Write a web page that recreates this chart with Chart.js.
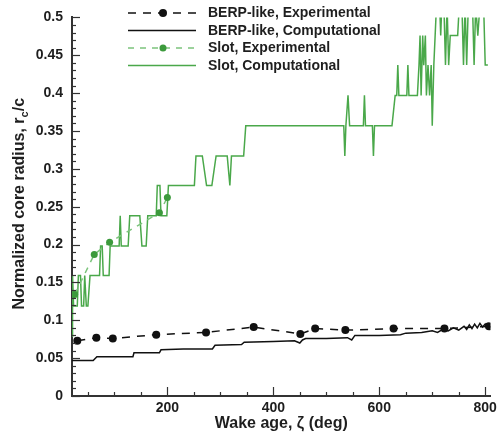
<!DOCTYPE html>
<html>
<head>
<meta charset="utf-8">
<script src="https://cdn.jsdelivr.net/npm/chart.js@4.4.0/dist/chart.umd.min.js"></script>
<style>
  html, body { margin: 0; padding: 0; background: #fff; }
</style>
</head>
<body>
<canvas id="coreChart" width="501" height="439"></canvas>
<script>
// series labels
var seriesNames = [
  "BERP-like, Experimental",
  "BERP-like, Computational",
  "Slot, Experimental",
  "Slot, Computational"
];

// axis tick values
var xTickValues = [200, 400, 600, 800];

// BERP-like experimental points
var berpExpX = [30, 66, 97, 179, 273, 363, 451, 479, 536, 627, 723, 807];
var berpExpY = [0.073, 0.077, 0.076, 0.081, 0.084, 0.091, 0.082, 0.089, 0.087, 0.089, 0.089, 0.092];

// BERP-like computational line
var berpCompX = [20, 60, 67, 135, 137, 185, 188, 230, 285, 290, 340, 345, 400, 440, 450, 455, 461, 500, 540, 548, 554, 600, 640, 650, 680, 700,
  710, 720, 730, 740, 750, 760, 765, 770, 775, 780, 785, 790, 795, 800, 805, 810];
var berpCompY = [0.047, 0.047, 0.052, 0.052, 0.057, 0.057, 0.061, 0.062, 0.062, 0.067, 0.068, 0.071, 0.072, 0.073, 0.070, 0.074, 0.076, 0.076, 0.077, 0.074, 0.080, 0.080, 0.081, 0.083, 0.084, 0.086,
  0.084, 0.088, 0.086, 0.090, 0.087, 0.092, 0.088, 0.094, 0.089, 0.095, 0.090, 0.096, 0.091, 0.095, 0.089, 0.092];

// Slot experimental points
var slotExpX = [25, 62, 91, 185, 200];
var slotExpY = [0.134, 0.187, 0.203, 0.242, 0.262];

// Slot computational line
var slotCompX = [20, 21, 23, 30, 32, 36, 38, 42, 44, 47, 50, 54, 72, 74, 77, 79, 90, 92, 109, 111, 113, 126, 129, 148, 152, 160, 163,
  179, 181, 186, 188, 199, 202, 251, 254, 266, 274, 284, 292, 313, 318, 321, 344, 348,
  533, 535, 537, 541, 544, 570, 572, 574, 587, 589, 591, 624, 630, 633, 635, 637, 652, 654, 656,
  672, 675, 677, 679, 682, 684, 687, 689, 692, 695, 698, 700, 703, 708, 714, 716, 718, 722, 725, 728, 731, 734,
  748, 751, 756, 759, 762, 765, 768, 776, 779, 782, 786, 790, 797, 800, 805];
var slotCompY = [0.079, 0.159, 0.119, 0.119, 0.159, 0.159, 0.119, 0.119, 0.159, 0.119, 0.119, 0.159, 0.159, 0.198, 0.198, 0.159, 0.159, 0.198, 0.198, 0.238, 0.198, 0.198, 0.238, 0.238, 0.198, 0.198, 0.238,
  0.238, 0.278, 0.278, 0.238, 0.238, 0.278, 0.278, 0.317, 0.317, 0.278, 0.278, 0.317, 0.317, 0.278, 0.317, 0.317, 0.357,
  0.357, 0.317, 0.357, 0.397, 0.357, 0.357, 0.397, 0.357, 0.357, 0.317, 0.357, 0.357, 0.397, 0.397, 0.437, 0.397, 0.397, 0.437, 0.397,
  0.397, 0.437, 0.476, 0.397, 0.476, 0.437, 0.476, 0.397, 0.437, 0.397, 0.437, 0.357, 0.437, 0.516, 0.516, 0.476, 0.516, 0.516, 0.437, 0.516, 0.437, 0.476,
  0.476, 0.516, 0.516, 0.437, 0.516, 0.437, 0.516, 0.516, 0.437, 0.516, 0.476, 0.516, 0.516, 0.437, 0.437];

function pairs(xs, ys) {
  return xs.map(function (x, i) { return { x: x, y: ys[i] }; });
}

var FONT = "'Liberation Sans', Arial, Helvetica, sans-serif";
var INK = "#1e1e1e";

// inward ticks, axis titles and legend
var decorPlugin = {
  id: "decor",
  afterDraw: function (chart) {
    var ctx = chart.ctx;
    var xs = chart.scales.x, ys = chart.scales.y;
    var area = chart.chartArea;
    ctx.save();
    ctx.strokeStyle = "#333";
    ctx.lineWidth = 1.2;
    // y ticks every 0.01, major every 0.05
    for (var k = 0; k <= 50; k++) {
      var py = Math.round(ys.getPixelForValue(k / 100)) + 0.5;
      var len = (k % 5 === 0) ? 8 : 4;
      ctx.beginPath();
      ctx.moveTo(area.left, py);
      ctx.lineTo(area.left + len, py);
      ctx.stroke();
    }
    // x ticks every 50, major every 200
    for (var v = 50; v <= 800; v += 50) {
      var px = Math.round(xs.getPixelForValue(v)) + 0.5;
      var l2 = (v % 200 === 0) ? 9 : 4;
      ctx.beginPath();
      ctx.moveTo(px, area.bottom);
      ctx.lineTo(px, area.bottom - l2);
      ctx.stroke();
    }

    ctx.fillStyle = INK;
    // x title
    ctx.font = "bold 16px " + FONT;
    ctx.textAlign = "center";
    ctx.textBaseline = "middle";
    ctx.fillText("Wake age, \u03b6 (deg)", (area.left + area.right) / 2, 424);

    // y title with subscript
    ctx.translate(20, (area.top + area.bottom) / 2 - 3);
    ctx.rotate(-Math.PI / 2);
    ctx.textAlign = "left";
    var big = "bold 16px " + FONT, small = "bold 11px " + FONT;
    var p1 = "Normalized core radius, r", p2 = "c", p3 = "/c";
    ctx.font = big;
    var w1 = ctx.measureText(p1).width, w3 = ctx.measureText(p3).width;
    ctx.font = small;
    var w2 = ctx.measureText(p2).width;
    var x0 = -(w1 + w2 + w3) / 2;
    ctx.font = big;
    ctx.fillText(p1, x0, 0);
    ctx.font = small;
    ctx.fillText(p2, x0 + w1, 5);
    ctx.font = big;
    ctx.fillText(p3, x0 + w1 + w2, 0);
    ctx.setTransform(1, 0, 0, 1, 0, 0);

    // legend
    chart.data.datasets.forEach(function (ds, i) {
      var ry = 13 + i * 17.5;
      ctx.strokeStyle = ds.borderColor;
      ctx.lineWidth = ds.borderWidth;
      ctx.setLineDash(ds.borderDash || []);
      ctx.beginPath();
      ctx.moveTo(128, ry);
      ctx.lineTo(196, ry);
      ctx.stroke();
      ctx.setLineDash([]);
      if (ds.pointRadius > 0) {
        ctx.fillStyle = ds.pointBackgroundColor;
        ctx.beginPath();
        ctx.arc(163, ry, ds.pointRadius, 0, Math.PI * 2);
        ctx.fill();
      }
      ctx.fillStyle = INK;
      ctx.font = "bold 14px " + FONT;
      ctx.textAlign = "left";
      ctx.textBaseline = "middle";
      ctx.fillText(seriesNames[i], 208, ry + 0.5);
    });
    ctx.restore();
  }
};

new Chart(document.getElementById("coreChart"), {
  type: "line",
  data: {
    datasets: [
      {
        label: seriesNames[0],
        data: pairs(berpExpX, berpExpY),
        borderColor: "#111",
        borderWidth: 1.5,
        borderDash: [8, 7],
        pointRadius: 4,
        pointBackgroundColor: "#111",
        pointBorderColor: "#111",
        pointBorderWidth: 0
      },
      {
        label: seriesNames[1],
        data: pairs(berpCompX, berpCompY),
        borderColor: "#111",
        borderWidth: 1.5,
        pointRadius: 0
      },
      {
        label: seriesNames[2],
        data: pairs(slotExpX, slotExpY),
        borderColor: "#7cc47c",
        borderWidth: 1.5,
        borderDash: [6, 6],
        pointRadius: 3.5,
        pointBackgroundColor: "#3c9a3c",
        pointBorderColor: "#3c9a3c",
        pointBorderWidth: 0
      },
      {
        label: seriesNames[3],
        data: pairs(slotCompX, slotCompY),
        borderColor: "#4aa84a",
        borderWidth: 1.5,
        pointRadius: 0
      }
    ]
  },
  options: {
    responsive: false,
    animation: false,
    events: [],
    layout: { padding: { left: 0, top: 16, right: 8, bottom: 0 } },
    plugins: {
      legend: { display: false },
      tooltip: { enabled: false }
    },
    elements: { line: { tension: 0 } },
    scales: {
      x: {
        type: "linear",
        min: 20,
        max: 810,
        afterFit: function (s) { s.height = 43; },
        afterBuildTicks: function (s) {
          s.ticks = xTickValues.map(function (v) { return { value: v }; });
        },
        grid: { display: false, drawTicks: false, tickLength: 0 },
        border: { display: true, color: "#333", width: 2 },
        ticks: {
          padding: 4,
          maxRotation: 0,
          autoSkip: false,
          color: INK,
          font: { family: FONT, size: 14, weight: "bold" }
        }
      },
      y: {
        min: 0,
        max: 0.5,
        afterFit: function (s) { s.width = 72; },
        grid: { display: false, drawTicks: false, tickLength: 0 },
        border: { display: true, color: "#333", width: 2 },
        ticks: {
          stepSize: 0.05,
          padding: 9,
          color: INK,
          font: { family: FONT, size: 14, weight: "bold" },
          callback: function (v) { return +v.toFixed(2); }
        }
      }
    }
  },
  plugins: [decorPlugin]
});
</script>
</body>
</html>
